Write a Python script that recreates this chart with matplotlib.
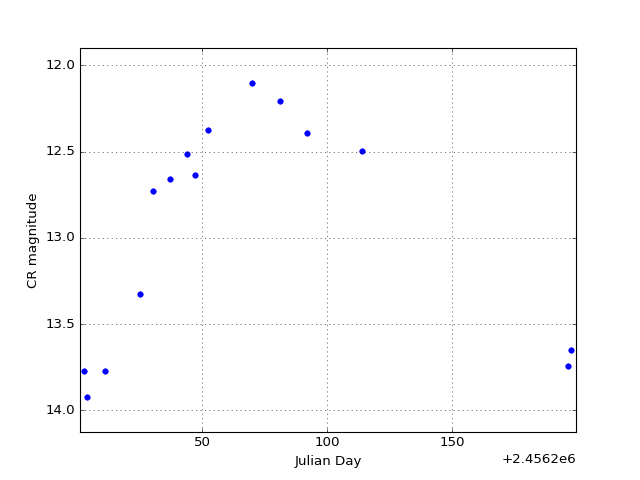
"""Light curve: CR magnitude vs Julian Day."""

import matplotlib

matplotlib.use("Agg")
import matplotlib.pyplot as plt

# Julian days relative to 2456200
jd_offset = 2456200.0
jd_rel = [2.9, 4.1, 11.2, 25.2, 30.3, 37.2, 44.1, 47.2, 52.3, 70.1, 81.1, 92.0, 114.0, 196.5, 197.5]
cr_mag = [13.775, 13.926, 13.774, 13.324, 12.729, 12.661, 12.512, 12.638, 12.377,
          12.100, 12.209, 12.390, 12.499, 13.745, 13.652]

jd = [jd_offset + d for d in jd_rel]

plt.style.use("classic")
fig, ax = plt.subplots(figsize=(8, 6), dpi=80)
fig.patch.set_facecolor("white")

ax.plot(jd, cr_mag, "o", color="b", markeredgecolor="b", markersize=5)

ax.set_xlim(jd_offset + 1.2, jd_offset + 199.5)
ax.set_ylim(max(cr_mag) + 0.2, min(cr_mag) - 0.2)
ax.set_yticks([12.0, 12.5, 13.0, 13.5, 14.0])
ax.set_xticks([jd_offset + 50, jd_offset + 100, jd_offset + 150])
ax.ticklabel_format(axis="x", useOffset=jd_offset)
ax.grid(True)

ax.set_xlabel("Julian Day")
ax.set_ylabel("CR magnitude")

fig.savefig("out.png", dpi=80, facecolor="white")
